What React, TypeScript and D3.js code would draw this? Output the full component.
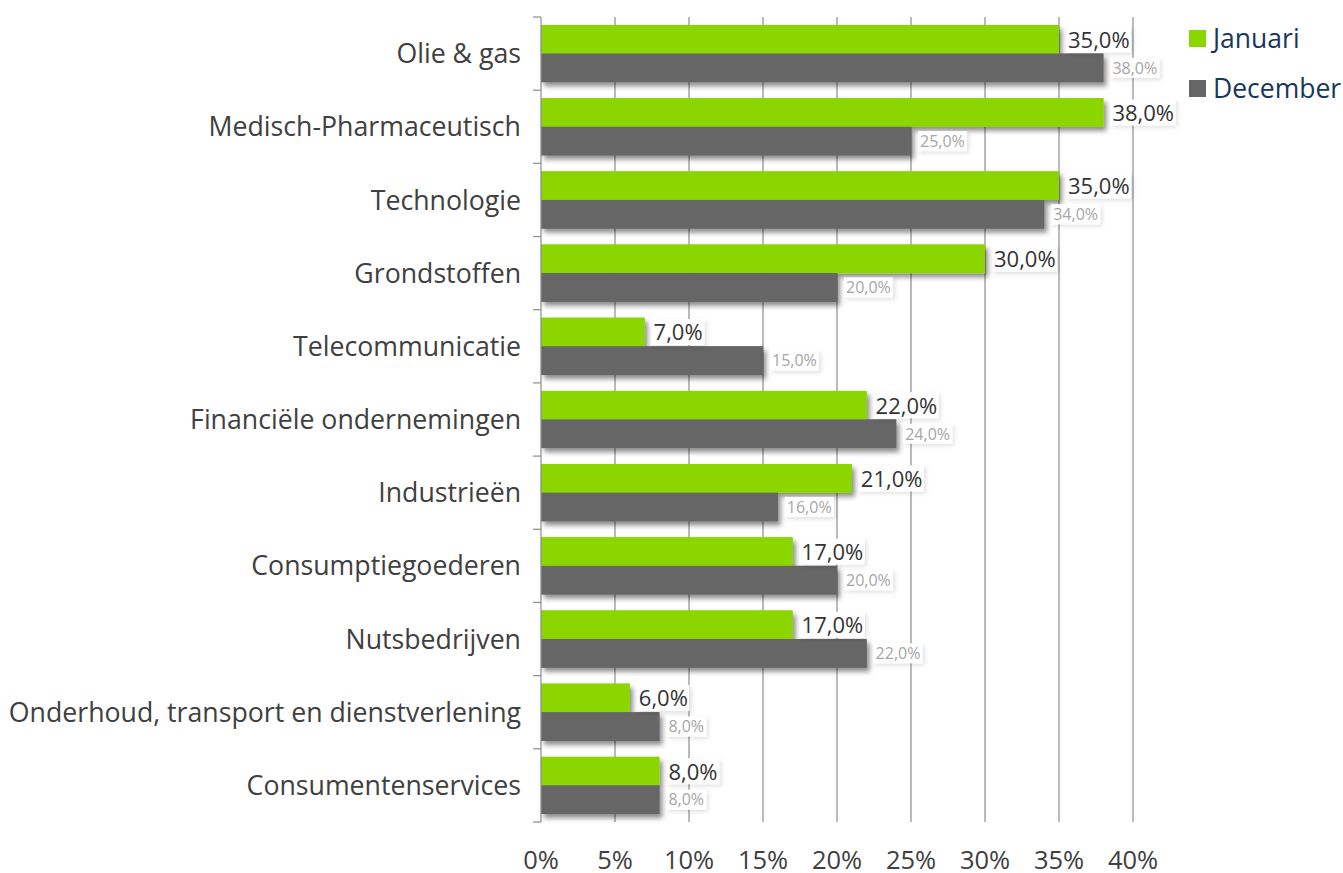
import React from "react";
import * as d3 from "d3";

const categories = [
  "Olie & gas",
  "Medisch-Pharmaceutisch",
  "Technologie",
  "Grondstoffen",
  "Telecommunicatie",
  "Financiële ondernemingen",
  "Industrieën",
  "Consumptiegoederen",
  "Nutsbedrijven",
  "Onderhoud, transport en dienstverlening",
  "Consumentenservices",
];
const januari = [35, 38, 35, 30, 7, 22, 21, 17, 17, 6, 8];
const december = [38, 25, 34, 20, 15, 24, 16, 20, 22, 8, 8];
const xTicks = [0, 5, 10, 15, 20, 25, 30, 35, 40];
const seriesNames = ["Januari", "December"];

const W = 1343;
const H = 873;
const FONT = "'Open Sans', 'Noto Sans', sans-serif";
const GREEN = "#8cd600";
const GRAY = "#666666";

export default function App() {
  const x = d3.scaleLinear().domain([0, 40]).range([541, 1133]);
  const y = d3.scaleBand<string>().domain(categories).range([17, 822]).paddingInner(0).paddingOuter(0);
  const bw = y.bandwidth();
  const pad = 8;
  const barH = (bw - 2 * pad) / 2;
  const fmt = (v: number) => v.toFixed(1).replace(".", ",") + "%";
  const boundaries = categories.map((c) => y(c)!).concat([822]);

  return (
    <svg
      width={W}
      height={H}
      style={{ position: "absolute", left: 0, top: 0, fontFamily: FONT }}
    >
      <defs>
        <filter id="sh" x="-10%" y="-30%" width="130%" height="180%">
          <feDropShadow dx="3" dy="4" stdDeviation="2.5" floodColor="#000" floodOpacity="0.45" />
        </filter>
        <filter id="shl" x="-20%" y="-30%" width="150%" height="180%">
          <feDropShadow dx="2" dy="2" stdDeviation="2" floodColor="#000" floodOpacity="0.12" />
        </filter>
      </defs>
      <rect width={W} height={H} fill="#fff" />
      {/* gridlines */}
      {xTicks.filter((t) => t > 0).map((t) => (
        <line key={t} x1={x(t)} x2={x(t)} y1={17} y2={822} stroke="#8c8c8c" strokeWidth={1.2} />
      ))}
      {/* bars with shadows */}
      {categories.map((c, i) => {
        const y0 = y(c)! + pad;
        return (
          <g key={c}>
            <rect x={x(0)} y={y0} width={x(januari[i]) - x(0)} height={barH} fill={GREEN} filter="url(#sh)" />
            <rect x={x(0)} y={y0 + barH} width={x(december[i]) - x(0)} height={barH} fill={GRAY} filter="url(#sh)" />
          </g>
        );
      })}
      {categories.map((c, i) => {
        const y0 = y(c)! + pad;
        return (
          <g key={c + "b"}>
            <rect x={x(0)} y={y0} width={x(januari[i]) - x(0)} height={barH} fill={GREEN} />
            <rect x={x(0)} y={y0 + barH} width={x(december[i]) - x(0)} height={barH} fill={GRAY} />
          </g>
        );
      })}
      {/* axis */}
      <line x1={x(0)} x2={x(0)} y1={17} y2={822} stroke="#8c8c8c" strokeWidth={1.2} />
      {boundaries.map((b, i) => (
        <line key={i} x1={533} x2={x(0)} y1={b} y2={b} stroke="#8c8c8c" strokeWidth={1.2} />
      ))}
      {/* value labels */}
      {categories.map((c, i) => {
        const y0 = y(c)! + pad;
        const gx = x(januari[i]) + 7;
        const dx = x(december[i]) + 7;
        const gt = fmt(januari[i]);
        const dt = fmt(december[i]);
        const gw = gt.length * 12.2 + 4;
        const dwid = dt.length * 9 + 4;
        return (
          <g key={c + "l"}>
            <rect x={gx} y={y0 + barH / 2 - 13} width={gw} height={26} fill="#fff" filter="url(#shl)" />
            <text x={gx + 2} y={y0 + barH / 2 + 0.5} dy="0.36em" fontSize={22} fill="#333">
              {gt}
            </text>
            <rect x={dx} y={y0 + barH * 1.5 - 10} width={dwid} height={20} fill="#fff" filter="url(#shl)" />
            <text x={dx + 2} y={y0 + barH * 1.5} dy="0.36em" fontSize={16} fill="#a6a6a6">
              {dt}
            </text>
          </g>
        );
      })}
      {/* category labels */}
      {categories.map((c) => (
        <text key={c + "c"} x={521} y={y(c)! + bw / 2} dy="0.36em" textAnchor="end" fontSize={26.7} fill="#404040">
          {c}
        </text>
      ))}
      {/* x tick labels */}
      {xTicks.map((t) => (
        <text key={t + "t"} x={x(t)} y={860} dy="0.36em" textAnchor="middle" fontSize={25.5} fill="#404040">
          {t + "%"}
        </text>
      ))}
      {/* legend */}
      {seriesNames.map((s, i) => (
        <g key={s} transform={`translate(1189, ${30 + i * 50})`}>
          <rect x={0} y={0} width={17} height={17} fill={i === 0 ? GREEN : GRAY} />
          <text x={24} y={8} dy="0.36em" fontSize={26.5} fill="#17375e">
            {s}
          </text>
        </g>
      ))}
    </svg>
  );
}
